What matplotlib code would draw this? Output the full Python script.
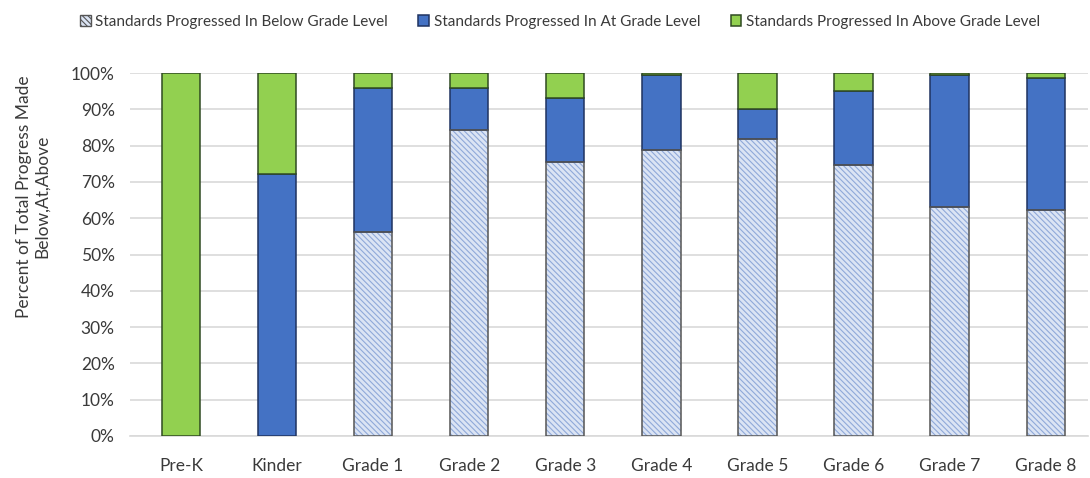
import numpy as np
import matplotlib
matplotlib.use('Agg')
from matplotlib import pyplot as plt

plt.rcParams['font.family'] = ['Lato', 'DejaVu Sans']
plt.rcParams['hatch.linewidth'] = 0.8

#%% DATA
grades = ['Pre-K', 'Kinder', 'Grade 1', 'Grade 2', 'Grade 3',
          'Grade 4', 'Grade 5', 'Grade 6', 'Grade 7', 'Grade 8']
below = [0, 0, 56.3, 84.2, 75.6, 78.8, 81.8, 74.6, 63.2, 62.3]
at = [0, 72.2, 39.5, 11.8, 17.4, 20.6, 8.2, 20.5, 36.2, 36.2]
above = [100, 27.8, 4.2, 4.0, 7.0, 0.6, 10.0, 4.9, 0.6, 1.5]
labels = ['Standards Progressed In Below Grade Level',
          'Standards Progressed In At Grade Level',
          'Standards Progressed In Above Grade Level']

#%% PLOT
fig = plt.figure(figsize=(10.9, 4.78), dpi=100)
ax = fig.add_axes([130/1090, 42/478, 958/1090, 363/478])

x = np.arange(len(grades))
w = 0.4
below = np.array(below)
at = np.array(at)
above = np.array(above)
txt = '#3a3a3a'

b1 = ax.bar(x, below, w, color='#dbe4f4', edgecolor='#8fa9d9', hatch='\\\\\\\\\\\\',
            linewidth=0, zorder=3, label=labels[0])
ax.bar(x[below > 0], below[below > 0], w, color='none', edgecolor='#555555',
       linewidth=1.1, zorder=4)
b2 = ax.bar(x, at, w, bottom=below, color='#4472c4', edgecolor='#1f3360',
            linewidth=1.1, zorder=3, label=labels[1])
b3 = ax.bar(x, above, w, bottom=below + at, color='#92d050', edgecolor='#2f4a22',
            linewidth=1.1, zorder=3, label=labels[2])

ax.set_ylim(0, 100)
ax.set_xlim(-0.53, len(grades) - 0.56)
ax.set_yticks(np.arange(0, 101, 10))
ax.set_yticklabels([str(v) + '%' for v in range(0, 101, 10)])
ax.set_xticks(x)
ax.set_xticklabels(grades)
ax.tick_params(axis='both', length=0, labelsize=12.5, colors=txt)
ax.tick_params(axis='x', pad=16)
ax.tick_params(axis='y', pad=11)
ax.yaxis.grid(True, color='#d9d9d9', linewidth=1.2, zorder=0)
for s in ['top', 'right', 'left']:
    ax.spines[s].set_visible(False)
ax.spines['bottom'].set_color('#d9d9d9')
ax.spines['bottom'].set_linewidth(1.2)

ax.set_ylabel('Percent of Total Progress Made\nBelow,At,Above', fontsize=12.5,
              color=txt, linespacing=1.2)
ax.yaxis.set_label_coords(-0.083, 0.66)

leg = fig.legend(handles=[b1, b2, b3], labels=labels, loc='center', ncol=3,
                 bbox_to_anchor=(560/1090, 1 - 22/478), frameon=False, fontsize=11,
                 handlelength=0.7, handleheight=0.7, handletextpad=0.3,
                 columnspacing=2.0, labelcolor=txt)
leg.legend_handles[0].set_edgecolor('#555555')
leg.legend_handles[0].set_linewidth(1)

fig.savefig('out.png', dpi=100)
